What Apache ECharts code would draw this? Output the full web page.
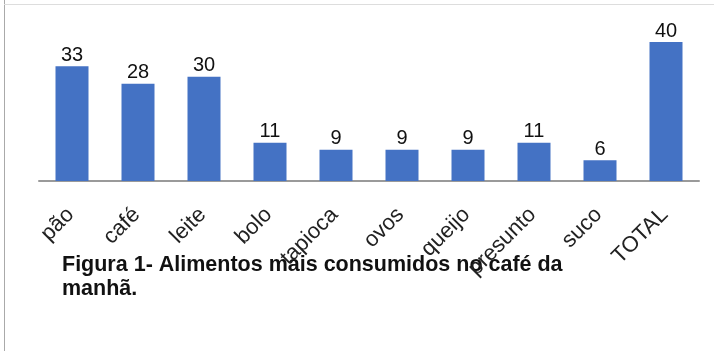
<!DOCTYPE html>
<html><head><meta charset="utf-8">
<script src="https://cdn.jsdelivr.net/npm/echarts@6/dist/echarts.min.js"></script>
<style>html,body{margin:0;padding:0;background:#fff}#c{width:714px;height:351px}</style>
</head><body><div id="c"></div>
<script>
const categories = ['pão','café','leite','bolo','tapioca','ovos','queijo','presunto','suco','TOTAL'];
const values = [33,28,30,11,9,9,9,11,6,40];
const captionLines = ['Figura 1- Alimentos mais consumidos no café da','manhã.'];

const chart = echarts.init(document.getElementById('c'), null, {renderer:'canvas'});
chart.setOption({
  animation:false,
  backgroundColor:'#fff',
  grid:{left:39, right:15, top:42, bottom:170, containLabel:false},
  xAxis:{type:'category', data:categories,
    axisLine:{lineStyle:{color:'#9a9a9a', width:2}},
    axisTick:{show:false},
    axisLabel:{rotate:45, margin:29, padding:[0,2,0,0], fontSize:22, color:'#222', fontFamily:'Liberation Sans, Arial, sans-serif', interval:0}
  },
  yAxis:{type:'value', min:0, max:40, show:false, splitLine:{show:false}},
  series:[{type:'bar', data:values, barWidth:'50%',
    itemStyle:{color:'#4472C4'},
    label:{show:true, position:'top', distance:1, fontSize:20, color:'#111', fontFamily:'Liberation Sans, Arial, sans-serif'}
  }],
  graphic:[
    {type:'line', shape:{x1:4.5,y1:0,x2:4.5,y2:351}, style:{stroke:'#aaa', lineWidth:1}, silent:true},
    {type:'line', shape:{x1:4,y1:4.5,x2:714,y2:4.5}, style:{stroke:'#ddd', lineWidth:1}, silent:true},
    {type:'text', left:62, top:253, style:{text:captionLines.join('\n'), font:'bold 21.5px "Liberation Sans", Arial, sans-serif', fill:'#111', lineHeight:24}}
  ]
});
</script></body></html>
